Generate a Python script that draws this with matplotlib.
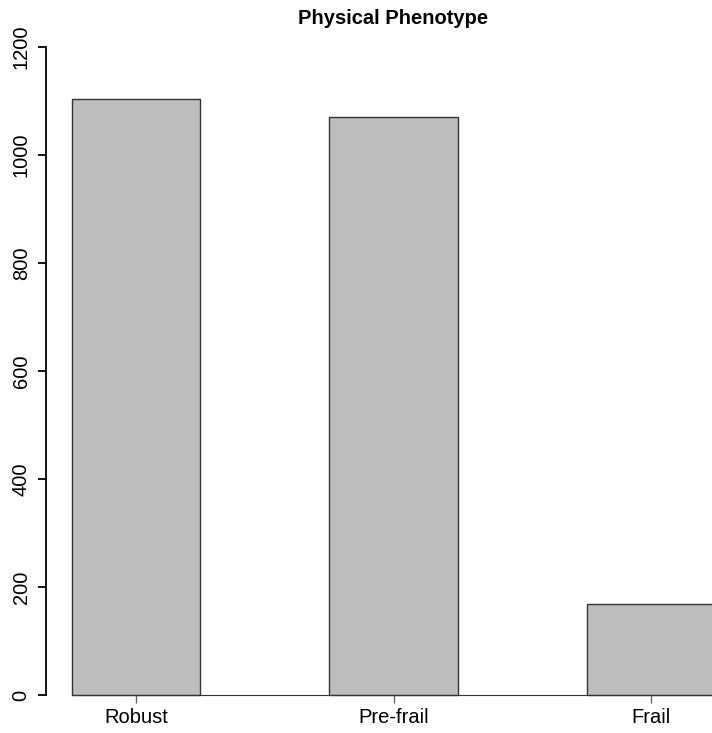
import matplotlib
matplotlib.use('Agg')
import matplotlib.pyplot as plt

plt.rcParams['font.family'] = ['Liberation Sans', 'DejaVu Sans']

categories = ['Robust', 'Pre-frail', 'Frail']
counts = [1104, 1071, 168]
y_ticks = [0, 200, 400, 600, 800, 1000, 1200]

W, H = 712, 733
fig = plt.figure(figsize=(W / 100, H / 100), dpi=100)

# plot region like R's barplot (space=1), it runs past the right edge of the image
ax = fig.add_axes([46 / W, (H - 721) / H, 695 / W, 700 / H])

centers = [1.5 + 2 * i for i in range(len(categories))]
ax.bar(centers, counts, width=1.0, color='#bebebe', edgecolor='#333333',
       linewidth=1.0, zorder=2)

ax.set_xlim(0.8, 6.2)
ax.set_ylim(-48, 1248)

for s in ['top', 'right']:
    ax.spines[s].set_visible(False)
ax.spines['left'].set_bounds(0, 1200)
ax.spines['left'].set_linewidth(1.3)
ax.spines['bottom'].set_position(('data', 0))
ax.spines['bottom'].set_bounds(1.0, 6.2)
ax.spines['bottom'].set_color('#333333')
ax.spines['bottom'].set_zorder(3)

ax.set_yticks(y_ticks)
ax.set_yticklabels([str(v) for v in y_ticks], rotation=90, va='center')
ax.tick_params(axis='y', length=6, width=1.3, pad=5, labelsize=14.5)

ax.set_xticks(centers)
ax.set_xticklabels(categories)
ax.tick_params(axis='x', length=6, width=1.0, color='#666666', pad=3, labelsize=14.5)

fig.text(393 / W, 1 - 18 / H, 'Physical Phenotype', ha='center', va='center',
         fontsize=14.5, fontweight='bold')

fig.savefig('out.png', dpi=100)
